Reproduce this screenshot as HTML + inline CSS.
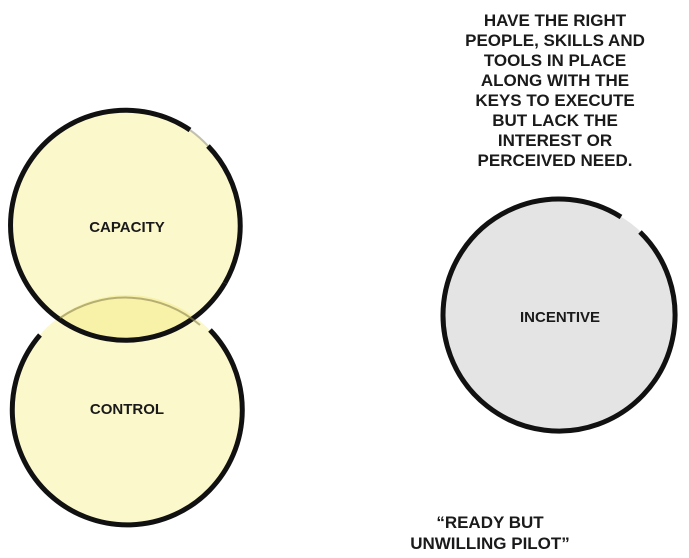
<!DOCTYPE html>
<html><head><meta charset="utf-8"><style>
html,body{margin:0;padding:0;background:#fff;width:689px;height:558px;overflow:hidden}
svg{display:block}
text{font-family:"Liberation Sans",sans-serif;font-weight:bold;fill:#1a1a1a}
</style></head><body>
<svg width="689" height="558" viewBox="0 0 689 558">
<defs>
<clipPath id="capc"><circle cx="127" cy="226" r="115"/></clipPath>
</defs>
<circle cx="127" cy="226" r="115" fill="#fbf8cc"/>
<circle cx="127" cy="410" r="115" fill="#fbf8cc"/>
<circle cx="127" cy="410" r="115" fill="#f8f1a8" clip-path="url(#capc)"/>
<path d="M 190 130 A 115 115 0 1 0 225 283" fill="none" stroke="#111" stroke-width="5"/>
<path d="M 208 146 A 115 115 0 0 1 225 283" fill="none" stroke="#111" stroke-width="5"/>
<path d="M 190 130 A 115 115 0 0 1 208 146" fill="none" stroke="#888" stroke-width="2" opacity="0.5"/>
<path d="M 40 335 A 115 115 0 1 0 210 330" fill="none" stroke="#111" stroke-width="5"/>
<path d="M 60 318 A 115 115 0 0 1 200 325" fill="none" stroke="#8a8450" stroke-width="2" opacity="0.6"/>
<circle cx="561" cy="316" r="116" fill="#e4e4e4"/>
<path d="M 640 232 A 116 116 0 1 1 621 217" fill="none" stroke="#111" stroke-width="5"/>
<g font-size="15" text-anchor="middle">
<text x="127" y="232">CAPACITY</text>
<text x="127" y="414">CONTROL</text>
<text x="560" y="322">INCENTIVE</text>
</g>
<g font-size="17" text-anchor="middle">
<text x="555" y="26">HAVE THE RIGHT</text>
<text x="555" y="46">PEOPLE, SKILLS AND</text>
<text x="555" y="66">TOOLS IN PLACE</text>
<text x="555" y="86">ALONG WITH THE</text>
<text x="555" y="106">KEYS TO EXECUTE</text>
<text x="555" y="126">BUT LACK THE</text>
<text x="555" y="146">INTEREST OR</text>
<text x="555" y="166">PERCEIVED NEED.</text>
<text x="490" y="528">“READY BUT</text>
<text x="490" y="549">UNWILLING PILOT”</text>
</g>
</svg>
</body></html>
